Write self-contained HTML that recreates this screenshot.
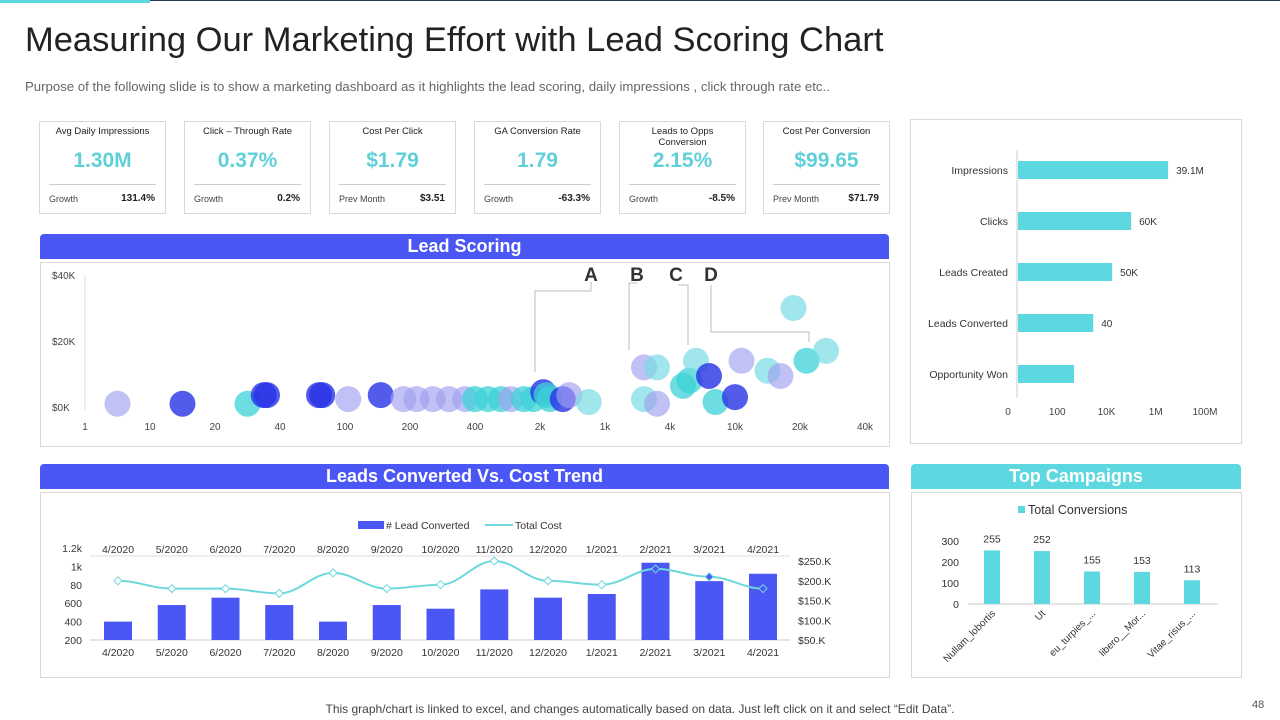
<!DOCTYPE html>
<html><head><meta charset="utf-8">
<style>
body{margin:0;width:1280px;height:720px;background:#fff;font-family:"Liberation Sans",sans-serif;position:relative;overflow:hidden}
.abs{position:absolute}
.card{position:absolute;top:121px;width:125px;height:91px;border:1px solid #d9d9d9;background:#fff}
.card .t{position:absolute;top:4px;left:0;right:0;text-align:center;font-size:9.5px;color:#222;line-height:11px}
.card .v{position:absolute;top:27px;left:0;right:0;text-align:center;font-size:21px;color:#5fd0d8;font-weight:bold}
.card .hr{position:absolute;top:62px;left:9px;right:9px;border-top:1px solid #ccc}
.card .l{position:absolute;top:72px;left:9px;font-size:9px;color:#444}
.card .r{position:absolute;top:71px;right:10px;font-size:10px;color:#222;font-weight:bold}
.hdr{position:absolute;height:25px;border-radius:4px 4px 0 0;color:#fff;font-weight:bold;font-size:18px;text-align:center;line-height:25px}
.panel{position:absolute;border:1px solid #d9d9d9;background:#fff}
</style></head><body>
<div class="abs" style="left:0;top:0;width:150px;height:3px;background:#5dd8e0"></div>
<div class="abs" style="left:150px;top:0;width:1130px;height:1px;background:#2c3a5a"></div>
<div class="abs" style="left:25px;top:21px;font-size:34.5px;color:#222">Measuring Our Marketing Effort with Lead Scoring Chart</div>
<div class="abs" style="left:25px;top:79px;font-size:13.2px;color:#666">Purpose of the following slide is to show a marketing dashboard as it highlights the lead scoring, daily impressions , click through rate etc..</div>

<div class="card" style="left:39px"><div class="t">Avg Daily Impressions</div><div class="v">1.30M</div><div class="hr"></div><div class="l">Growth</div><div class="r">131.4%</div></div>
<div class="card" style="left:184px"><div class="t">Click – Through Rate</div><div class="v">0.37%</div><div class="hr"></div><div class="l">Growth</div><div class="r">0.2%</div></div>
<div class="card" style="left:329px"><div class="t">Cost Per Click</div><div class="v">$1.79</div><div class="hr"></div><div class="l">Prev Month</div><div class="r">$3.51</div></div>
<div class="card" style="left:474px"><div class="t">GA Conversion Rate</div><div class="v">1.79</div><div class="hr"></div><div class="l">Growth</div><div class="r">-63.3%</div></div>
<div class="card" style="left:619px"><div class="t">Leads to Opps<br>Conversion</div><div class="v">2.15%</div><div class="hr"></div><div class="l">Growth</div><div class="r">-8.5%</div></div>
<div class="card" style="left:763px"><div class="t">Cost Per Conversion</div><div class="v">$99.65</div><div class="hr"></div><div class="l">Prev Month</div><div class="r">$71.79</div></div>

<div class="hdr" style="left:40px;top:234px;width:849px;background:#4b57f5">Lead Scoring</div>
<div class="panel" style="left:40px;top:262px;width:848px;height:183px"></div>
<div class="panel" style="left:910px;top:119px;width:330px;height:323px"></div>
<div class="hdr" style="left:40px;top:464px;width:849px;background:#4b57f5">Leads Converted Vs. Cost Trend</div>
<div class="panel" style="left:40px;top:492px;width:848px;height:184px"></div>
<div class="hdr" style="left:911px;top:464px;width:330px;background:#5dd8e0">Top Campaigns</div>
<div class="panel" style="left:911px;top:492px;width:329px;height:184px"></div>

<svg id="s" class="abs" style="left:0;top:0" width="1280" height="720" font-family="Liberation Sans, sans-serif"></svg>

<div class="abs" style="left:0;width:1280px;top:702px;text-align:center;font-size:12px;color:#444">This graph/chart is linked to excel, and changes automatically based on data. Just left click on it and select “Edit Data”.</div>
<div class="abs" style="left:1252px;top:699px;font-size:11px;color:#555">48</div>

<script>
// ---- Bubble chart data ----
const bubbleXTicks=["1","10","20","40","100","200","400","2k","1k","4k","10k","20k","40k"];
const bubbleYTicks=[0,20,40];
const bubbleX=[0.5,1.5,2.5,2.75,2.8,3.6,3.65,4.05,4.55,4.9,5.1,5.35,5.6,5.85,6.0,6.2,6.4,6.55,6.75,6.9,7.05,7.1,7.15,7.35,7.45,7.75,8.6,8.8,8.6,8.8,9.2,9.3,9.4,9.7,9.6,10.0,10.1,10.5,10.7,10.9,11.1,11.4];
const bubbleY=[1,1,1,3.6,3.6,3.6,3.6,2.4,3.6,2.4,2.4,2.4,2.4,2.4,2.4,2.4,2.4,2.4,2.4,2.4,4.5,3.6,2.4,2.4,3.6,1.5,12,12,2.4,1,6.4,8,14,1.5,9.4,3,14,11,9.4,30,14,17];
const bubbleC=[0,1,2,1,1,1,1,0,1,0,0,0,0,0,2,2,2,0,2,2,1,2,2,1,0,3,0,3,3,0,2,2,3,2,1,1,0,3,0,3,2,3];
const palette=["rgba(160,160,240,0.65)","rgba(40,50,230,0.8)","rgba(60,210,215,0.75)","rgba(120,220,228,0.7)"];
// ---- Funnel bars ----
const funnelCats=["Impressions","Clicks","Leads Created","Leads Converted","Opportunity Won"];
const funnelVals=[3.25,2.5,2.115,1.73,1.34];
const funnelLabels=["39.1M","60K","50K","40",""];
const funnelTicks=["0","100","10K","1M","100M"];
// ---- Leads vs cost ----
const months=["4/2020","5/2020","6/2020","7/2020","8/2020","9/2020","10/2020","11/2020","12/2020","1/2021","2/2021","3/2021","4/2021"];
const leads=[400,580,660,580,400,580,540,750,660,700,1040,840,920];
const cost=[200,180,180,168,220,180,190,250,200,190,230,210,180];
const leftTicks=["200","400","600","80","1k","1.2k"];
const leftTickVals=[200,400,600,800,1000,1200];
const rightTicks=[50,100,150,200,250];
// ---- Top campaigns ----
const campNames=["Nullam_lobortis","Ut","eu_turpies_...","libero__Mor...","Vitae_risus_..."];
const campVals=[255,252,155,153,113];
const campTicks=[0,100,200,300];

const S=document.getElementById('s');
function el(t,a,txt){const e=document.createElementNS('http://www.w3.org/2000/svg',t);for(const k in a)e.setAttribute(k,a[k]);if(txt!==undefined)e.textContent=txt;S.appendChild(e);return e;}

// Bubble chart
const bx=i=>85+i*65, by=v=>407-v*3.3;
el('line',{x1:85,y1:275,x2:85,y2:410,stroke:'#ddd'});
bubbleXTicks.forEach((t,i)=>{const e=el('text',{x:bx(i),y:430,'font-size':10,fill:'#444','text-anchor':'middle'},t);});
bubbleYTicks.forEach(v=>{const e=el('text',{x:52,y:by(v)+4,'font-size':10,fill:'#444'},'$'+v+'K');});
bubbleX.forEach((x,i)=>{const e=el('circle',{cx:bx(x),cy:by(bubbleY[i]),r:13,fill:palette[bubbleC[i]]});});
// annotations
const ann=[["A",591,"M591,282 V291 H535 V372"],["B",637,"M637,283 H629 V350"],["C",676,"M678,285 H688 V345"],["D",711,"M711,285 V332 H809 V342"]];
ann.forEach(a=>{el('path',{d:a[2],fill:'none',stroke:'#bbb','stroke-width':1});const e=el('text',{x:a[1],y:281,'font-size':19,'font-weight':'bold',fill:'#333','text-anchor':'middle'},a[0]);});

// Funnel bars
const fx=v=>1008+v*49.25, fy=i=>170+i*51;
el('line',{x1:1017,y1:150,x2:1017,y2:398,stroke:'#ccc'});
funnelTicks.forEach((t,i)=>{const e=el('text',{x:fx(i),y:415,'font-size':10,fill:'#444','text-anchor':'middle'},t);});
funnelCats.forEach((c,i)=>{
 let e=el('text',{x:1008,y:fy(i)+4,'font-size':10.5,fill:'#333','text-anchor':'end'},c);
 e=el('rect',{x:1018,y:fy(i)-9,width:fx(funnelVals[i])-1018,height:18,fill:'#5dd8e0'});
 e=el('text',{x:fx(funnelVals[i])+8,y:fy(i)+4,'font-size':10,fill:'#333'},funnelLabels[i]);
});

// Leads vs cost
const mx=i=>118+i*53.75, ly=v=>640-(v-200)*0.092, ry=v=>640-(v-50)*0.395;
el('line',{x1:90,y1:640,x2:790,y2:640,stroke:'#ccc'});
el('line',{x1:90,y1:556,x2:790,y2:556,stroke:'#ddd'});
leftTicks.forEach((t,i)=>{const e=el('text',{x:82,y:ly(leftTickVals[i])+4,'font-size':10.5,fill:'#333','text-anchor':'end'},t);});
rightTicks.forEach(v=>{const e=el('text',{x:798,y:ry(v)+4,'font-size':10.5,fill:'#333'},'$'+v+'.K');});
months.forEach((m,i)=>{
 let e=el('rect',{x:mx(i)-14,y:ly(leads[i]),width:28,height:640-ly(leads[i]),fill:'#4b57f5'});
 e=el('text',{x:mx(i),y:656,'font-size':10.5,fill:'#333','text-anchor':'middle'},m);
 e=el('text',{x:mx(i),y:553,'font-size':10.5,fill:'#333','text-anchor':'middle'},m);
});
let d='';cost.forEach((c,i)=>{const x=mx(i),y=ry(c);if(i===0)d+='M'+x+','+y;else{const px=mx(i-1),py=ry(cost[i-1]);d+=' C'+(px+20)+','+py+' '+(x-20)+','+y+' '+x+','+y;}});
let ln=el('path',{d:d,fill:'none',stroke:'#6dd8dc','stroke-width':2});
cost.forEach((c,i)=>{const x=mx(i),y=ry(c);const e=el('path',{d:`M${x},${y-4}L${x+4},${y}L${x},${y+4}L${x-4},${y}Z`,fill:i>=10?'#4b57f5':'#fff',stroke:'#6dd8dc'});});
el('rect',{x:358,y:521,width:26,height:8,fill:'#4b57f5'});
let t=el('text',{x:386,y:529,'font-size':10.5,fill:'#333'},'# Lead Converted');
el('line',{x1:485,y1:525,x2:513,y2:525,stroke:'#6dd8dc','stroke-width':2});
t=el('text',{x:515,y:529,'font-size':10.5,fill:'#333'},'Total Cost');

// Top campaigns
const cx=i=>992+i*50, cy=v=>604-v*0.21;
el('line',{x1:968,y1:604,x2:1218,y2:604,stroke:'#ccc'});
campTicks.forEach(v=>{const e=el('text',{x:959,y:cy(v)+4,'font-size':10.5,fill:'#333','text-anchor':'end'},String(v));});
campNames.forEach((n,i)=>{
 let e=el('rect',{x:cx(i)-8,y:cy(campVals[i]),width:16,height:604-cy(campVals[i]),fill:'#5dd8e0'});
 e=el('text',{x:cx(i),y:cy(campVals[i])-8,'font-size':10.5,fill:'#333','text-anchor':'middle'},String(campVals[i]));
 e=el('text',{x:cx(i)+4,y:614,'font-size':10,fill:'#333','text-anchor':'end',transform:`rotate(-45 ${cx(i)+4} 614)`},n);
});
el('rect',{x:1018,y:506,width:7,height:7,fill:'#5dd8e0'});
t=el('text',{x:1028,y:514,'font-size':12.5,fill:'#333'},'Total Conversions');
</script>
</body></html>
